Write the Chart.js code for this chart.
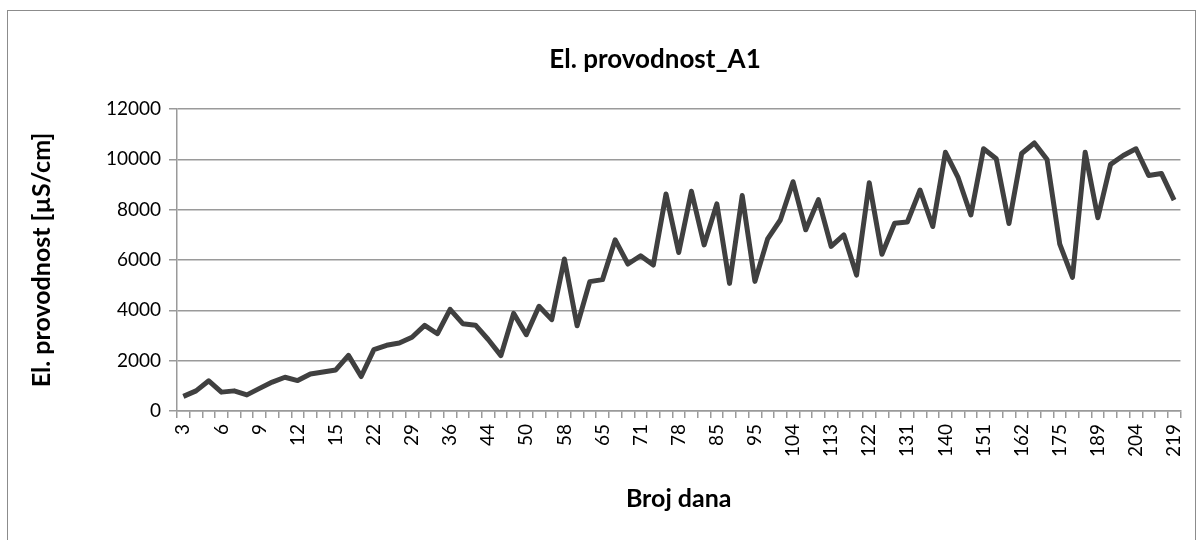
<!DOCTYPE html>
<html>
<head>
<meta charset="utf-8">
<title>El. provodnost_A1</title>
<script src="https://cdn.jsdelivr.net/npm/chart.js@4/dist/chart.umd.min.js"></script>
<style>
  html, body { margin: 0; padding: 0; background: #fff; }
  #wrap { position: relative; width: 1203px; height: 540px; overflow: hidden; }
  #frame { position: absolute; left: 7px; top: 10px; width: 1189px; height: 560px; border: 1px solid #8c8c8c; box-sizing: border-box; }
  #chart { position: absolute; left: 0; top: 0; }
</style>
</head>
<body>
<div id="wrap">
  <div id="frame"></div>
  <canvas id="chart" width="1203" height="540"></canvas>
</div>
<script>
const chartTitle = "El. provodnost_A1";
const yTitle = "El. provodnost [µS/cm]";
const xTitle = "Broj dana";

// days (only every third one is labelled on the axis)
const days = [3, 4, 5, 6, 7, 8, 9, 10, 11, 12, 13, 14, 15, 17, 20, 22, 24, 27, 29, 31,
  34, 36, 38, 41, 44, 46, 48, 50, 53, 55, 58, 60, 62, 65, 67, 69, 71, 73, 76, 78,
  80, 83, 85, 88, 92, 95, 98, 101, 104, 107, 110, 113, 116, 119, 122, 125, 128, 131, 134, 137,
  140, 144, 148, 151, 155, 158, 162, 166, 171, 175, 180, 184, 189, 194, 199, 204, 209, 214, 219];

// conductivity in µS/cm
const provodnost = [580, 800, 1200, 750, 800, 640, 900, 1150, 1340, 1210, 1470, 1550, 1630, 2210, 1370, 2440, 2610, 2700, 2930, 3400,
  3070, 4040, 3470, 3410, 2840, 2200, 3880, 3030, 4160, 3630, 6040, 3390, 5140, 5220, 6800, 5840, 6170, 5800, 8620, 6300,
  8730, 6600, 8230, 5070, 8560, 5150, 6840, 7590, 9110, 7200, 8400, 6540, 7000, 5400, 9070, 6230, 7460, 7510, 8780, 7330,
  10280, 9270, 7790, 10420, 10020, 7450, 10230, 10650, 9990, 6630, 5310, 10280, 7680, 9800, 10150, 10420, 9360, 9440, 8380];

const yMin = 0, yMax = 12000, yStep = 2000;

const FONT = "Lato, 'Noto Sans', sans-serif";
const GRID = "#9a9a9a";

// title centred over the plot like in the spreadsheet
const titlePlugin = {
  id: "sheetTitle",
  afterDraw(chart) {
    const ctx = chart.ctx;
    ctx.save();
    ctx.font = "bold 26px " + FONT;
    ctx.fillStyle = "#000";
    ctx.textAlign = "center";
    ctx.textBaseline = "middle";
    ctx.fillText(chartTitle, 655, 60);
    ctx.restore();
  }
};

new Chart(document.getElementById("chart"), {
  type: "line",
  data: {
    labels: days,
    datasets: [{
      data: provodnost,
      borderColor: "#404040",
      borderWidth: 5,
      borderJoinStyle: "round",
      pointRadius: 0,
      tension: 0,
      fill: false
    }]
  },
  options: {
    responsive: false,
    devicePixelRatio: 1,
    animation: false,
    layout: { padding: { top: 109, right: 19, bottom: 0, left: 0 } },
    plugins: {
      legend: { display: false },
      title: { display: false },
      tooltip: { enabled: false }
    },
    scales: {
      x: {
        type: "category",
        offset: true,
        afterFit(scale) { scale.height = 129; },
        grid: { drawOnChartArea: false, offset: true, tickLength: 7, color: GRID, lineWidth: 1.5 },
        border: { color: GRID, width: 1.5 },
        ticks: {
          autoSkip: false,
          minRotation: 90,
          maxRotation: 90,
          padding: 6,
          color: "#000",
          font: { family: FONT, size: 19 },
          callback: (v, i) => (i % 3 === 0 ? days[i] : "")
        },
        title: {
          display: true,
          text: xTitle,
          color: "#000",
          font: { family: FONT, size: 25, weight: "bold" },
          padding: { top: 0, bottom: 26 }
        }
      },
      y: {
        min: yMin,
        max: yMax,
        afterFit(scale) { scale.width = 177; },
        grid: { color: GRID, lineWidth: 1.5, tickLength: 8 },
        border: { color: GRID, width: 1.5 },
        ticks: {
          stepSize: yStep,
          padding: 8,
          color: "#000",
          font: { family: FONT, size: 19 },
          callback: v => String(v)
        },
        title: {
          display: true,
          text: yTitle,
          color: "#000",
          font: { family: FONT, size: 25, weight: "bold" },
          padding: { top: 27, bottom: 0 }
        }
      }
    }
  },
  plugins: [titlePlugin]
});
</script>
</body>
</html>
